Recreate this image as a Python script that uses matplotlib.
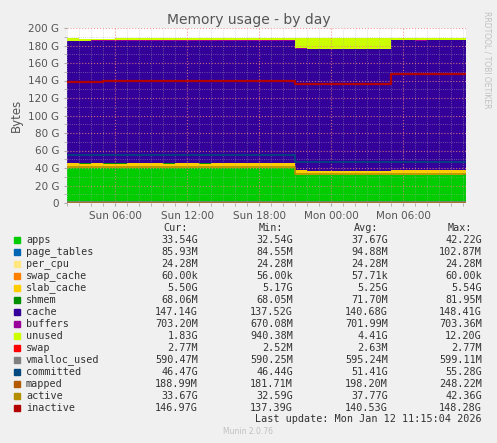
import numpy as np
import matplotlib.pyplot as plt
import matplotlib.dates as mdates
import pandas as pd

# hourly samples, Sun 02:00 .. Mon 11:00, plus the last update at 11:15
times = list(pd.date_range('2026-01-11 02:00', '2026-01-12 11:00', freq='h')) + [pd.Timestamp('2026-01-12 11:15')]

apps = [39.8, 39.6, 39.7, 39.5, 39.6, 39.8, 39.6, 39.7, 39.6, 39.6, 39.7, 39.6, 39.6, 39.6, 39.7, 39.6, 39.9, 39.7, 39.8,
        32.0, 31.6, 31.6, 31.6, 31.6, 31.6, 31.6, 31.6, 32.4, 32.2, 32.0, 32.3, 32.1, 32.4, 32.5, 32.5]
page_tables = [0.1] * 35
per_cpu = [0.02] * 35
swap_cache = [0.0] * 35
slab_cache = [5.5, 5.4, 5.4, 5.5, 5.4, 5.4, 5.5, 5.4, 5.4, 5.5, 5.4, 5.4, 5.5, 5.6, 5.4, 5.5, 5.6, 5.4, 5.5,
              5.2, 5.2, 5.2, 5.2, 5.2, 5.2, 5.2, 5.2, 5.5, 5.5, 5.4, 5.5, 5.5, 5.5, 5.5, 5.5]
shmem = [0.08] * 19 + [0.07] * 16
cache = [139.5, 139.6, 140.0, 140.2, 140.2, 140.2, 140.2, 140.2, 140.2, 140.2, 140.2, 140.2, 140.2, 140.2, 140.2, 140.2, 140.0, 140.0, 139.6,
         138.5, 138.6, 138.6, 138.6, 138.6, 138.6, 138.6, 138.6, 147.9, 148.0, 148.0, 147.8, 148.0, 147.7, 147.6, 147.6]
buffers = [0.7] * 35
unused = [2.4, 2.4, 1.9, 1.9, 2.0, 1.8, 2.0, 1.9, 2.0, 1.9, 1.9, 2.0, 2.0, 1.8, 2.0, 2.0, 1.9, 2.2, 2.4,
          12.0, 12.0, 12.0, 12.0, 12.0, 12.0, 12.0, 12.0, 1.6, 1.7, 1.9, 1.7, 1.7, 1.8, 1.9, 1.9]
swap = [0.003] * 35
vmalloc_used = [0.6] * 35
committed = [54.5] * 19 + [46.5] * 16
mapped = [0.2] * 35
active = [41.0, 40.8, 40.9, 40.7, 40.8, 41.0, 40.8, 40.9, 40.8, 40.8, 40.9, 40.8, 40.8, 40.8, 40.9, 40.8, 41.1, 40.9, 41.0,
          33.2, 32.8, 32.8, 32.8, 32.8, 32.8, 32.8, 32.8, 33.6, 33.4, 33.2, 33.5, 33.3, 33.6, 33.7, 33.7]
inactive = [138.0, 138.0, 138.1, 140.0, 140.0, 140.0, 140.0, 139.0, 139.0, 139.0, 139.0, 139.0, 139.0, 139.0, 139.0, 139.0, 139.0, 139.0, 139.0,
            136.5, 136.5, 136.5, 136.5, 136.5, 136.5, 136.5, 136.5, 147.0, 147.0, 147.0, 147.0, 147.0, 147.0, 147.0, 147.0]

areas = [('apps', apps, '#00CC00'), ('page_tables', page_tables, '#0066B3'), ('per_cpu', per_cpu, '#FFE680'),
         ('swap_cache', swap_cache, '#FF8000'), ('slab_cache', slab_cache, '#FFCC00'), ('shmem', shmem, '#008F00'),
         ('cache', cache, '#330099'), ('buffers', buffers, '#990099'), ('unused', unused, '#CCFF00'),
         ('swap', swap, '#FF0000')]
lines = [('vmalloc_used', vmalloc_used, '#808080'), ('committed', committed, '#00487D'),
         ('mapped', mapped, '#B35A00'), ('active', active, '#B38F00'), ('inactive', inactive, '#B30000')]

stats = {
    'apps': ['33.54G', '32.54G', '37.67G', '42.22G'], 'page_tables': ['85.93M', '84.55M', '94.88M', '102.87M'],
    'per_cpu': ['24.28M', '24.28M', '24.28M', '24.28M'], 'swap_cache': ['60.00k', '56.00k', '57.71k', '60.00k'],
    'slab_cache': ['5.50G', '5.17G', '5.25G', '5.54G'], 'shmem': ['68.06M', '68.05M', '71.70M', '81.95M'],
    'cache': ['147.14G', '137.52G', '140.68G', '148.41G'], 'buffers': ['703.20M', '670.08M', '701.99M', '703.36M'],
    'unused': ['1.83G', '940.38M', '4.41G', '12.20G'], 'swap': ['2.77M', '2.52M', '2.63M', '2.77M'],
    'vmalloc_used': ['590.47M', '590.25M', '595.24M', '599.11M'], 'committed': ['46.47G', '46.44G', '51.41G', '55.28G'],
    'mapped': ['188.99M', '181.71M', '198.20M', '248.22M'], 'active': ['33.67G', '32.59G', '37.77G', '42.36G'],
    'inactive': ['146.97G', '137.39G', '140.53G', '148.28G'],
}

W, H = 497, 443
fig = plt.figure(figsize=(W / 100, H / 100), dpi=100, facecolor='#F0F0F0')
ax = fig.add_axes([67 / W, 1 - 203 / H, 399 / W, 175 / H])
ax.set_facecolor('white')

base = np.zeros(len(times))
for name, vals, col in areas:
    top = base + np.array(vals)
    if max(vals) > 0.05:
        ax.fill_between(times, base, top, step='post', color=col, linewidth=0, antialiased=False, zorder=2)
    base = top
for name, vals, col in lines:
    ax.step(times, vals, where='post', color=col, linewidth=1.6 if name == 'inactive' else 1.2, zorder=3)

ax.set_xlim(times[0], times[-1])
ax.set_ylim(0, 200)
ax.set_yticks(range(0, 201, 20))
ax.set_yticklabels(['0'] + ['%d G' % v for v in range(20, 201, 20)])
ax.set_yticks(range(0, 201, 10), minor=True)
ax.xaxis.set_major_locator(mdates.HourLocator(byhour=[0, 6, 12, 18]))
ax.xaxis.set_major_formatter(mdates.DateFormatter('%a %H:%M'))
ax.xaxis.set_minor_locator(mdates.HourLocator())
ax.grid(True, which='major', color='#F08080', linestyle=':', linewidth=0.8, alpha=0.8, zorder=4)
ax.grid(True, which='minor', color='#B0B0B0', linestyle=':', linewidth=0.6, alpha=0.6, zorder=4)
ax.set_axisbelow(False)
for s in ax.spines.values():
    s.set_visible(False)
ax.tick_params(which='both', length=2, colors='#AAAAAA', labelcolor='#555555', labelsize=7.5)
ax.set_ylabel('Bytes', color='#555555', fontsize=8.5)
ax.axhline(0, color='#AAAAAA', linewidth=1, zorder=5)
fig.text(0.5, 1 - 20 / H, 'Memory usage - by day', ha='center', va='center', fontsize=10, color='#555555')
fig.text(487 / W, 1 - 60 / H, 'RRDTOOL / TOBI OETIKER', rotation=270, ha='center', va='center', fontsize=5.5, color='#C0C0C0')

mono = 'DejaVu Sans Mono'
fs = 7.3
cols_x = [198, 293, 388, 482]
for x, hdr in zip(cols_x, ['Cur:', 'Min:', 'Avg:', 'Max:']):
    fig.text((x - 10) / W, 1 - 228 / H, hdr, ha='right', va='center', family=mono, fontsize=fs, color='#333333')
for i, (name, vals, col) in enumerate(areas + lines):
    y = 1 - (240 + 12 * i) / H
    fig.patches.append(plt.Rectangle((14 / W, y - 3 / H), 6 / W, 6 / H, transform=fig.transFigure, color=col, figure=fig))
    fig.text(26 / W, y, name, va='center', family=mono, fontsize=fs, color='#333333')
    for x, v in zip(cols_x, stats[name]):
        fig.text(x / W, y, v, ha='right', va='center', family=mono, fontsize=fs, color='#333333')
fig.text(482 / W, 1 - 419 / H, 'Last update: Mon Jan 12 11:15:04 2026', ha='right', va='center', family=mono, fontsize=fs, color='#333333')
fig.text(248 / W, 1 - 432 / H, 'Munin 2.0.76', ha='center', va='center', fontsize=5.5, color='#C0C0C0')

fig.savefig('out.png', dpi=100, facecolor=fig.get_facecolor())
